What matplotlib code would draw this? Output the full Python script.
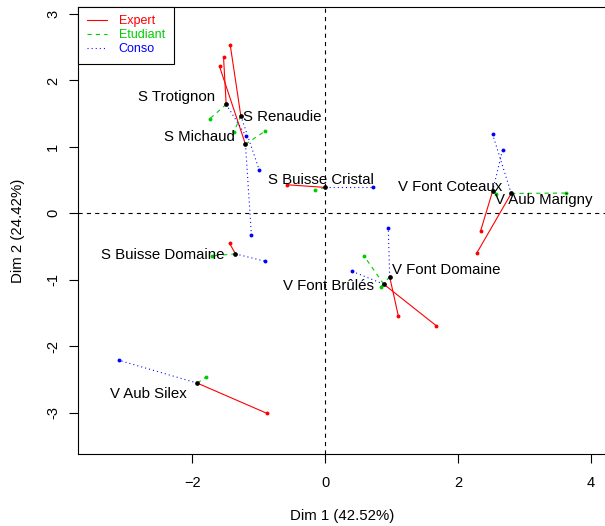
import numpy as np
import matplotlib
matplotlib.use("Agg")
import matplotlib.pyplot as plt
from matplotlib.lines import Line2D

plt.rcParams["font.family"] = ["Liberation Sans", "DejaVu Sans"]
plt.rcParams["lines.scale_dashes"] = False

# individus (coordonnees)
products = ["S Michaud", "S Renaudie", "S Trotignon", "S Buisse Domaine",
            "S Buisse Cristal", "V Aub Silex", "V Aub Marigny",
            "V Font Domaine", "V Font Brûlés", "V Font Coteaux"]

center_x = [-1.20, -1.27, -1.49, -1.35, 0.00, -1.925, 2.80, 0.97, 0.88, 2.52]
center_y = [1.04, 1.47, 1.64, -0.61, 0.39, -2.555, 0.30, -0.955, -1.065, 0.335]

expert_x = [-1.59, -1.43, -1.53, -1.44, -0.57, -0.877, 2.28, 1.10, 1.67, 2.34]
expert_y = [2.21, 2.54, 2.35, -0.45, 0.43, -3.01, -0.60, -1.54, -1.69, -0.26]

etudiant_x = [-0.90, -1.37, -1.74, -1.70, -0.15, -1.79, 3.62, 0.84, 0.58, 2.57]
etudiant_y = [1.24, 1.23, 1.42, -0.64, 0.35, -2.46, 0.305, -1.105, -0.635, 0.295]

conso_x = [-1.11, -0.99, -1.19, -0.91, 0.72, -3.11, 2.52, 0.95, 0.41, 2.67]
conso_y = [-0.33, 0.645, 1.16, -0.72, 0.39, -2.21, 1.19, -0.225, -0.875, 0.96]

groups = ["Expert", "Etudiant", "Conso"]
xticks = [-2, 0, 2, 4]
yticks = [-3, -2, -1, 0, 1, 2, 3]

# position des etiquettes (decalage en pixels, vers le bas positif)
label_pos = {
    "S Michaud": (-10.3, -3.0, "right"),
    "S Renaudie": (2.6, 5.7, "left"),
    "S Trotignon": (-10.7, -3.7, "right"),
    "S Buisse Domaine": (-11.3, 5.3, "right"),
    "S Buisse Cristal": (-4.2, -3.3, "center"),
    "V Aub Silex": (-11.0, 14.6, "right"),
    "V Aub Marigny": (-16.7, 11.0, "left"),
    "V Font Domaine": (2.4, -3.0, "left"),
    "V Font Brûlés": (-9.7, 5.7, "right"),
    "V Font Coteaux": (9.4, 0.0, "right"),
}

colors = ["#FF0000", "#00CD00", "#0000FF"]
styles = ["-", (0, (3, 3)), (0, (0.75, 2.2))]
lw = 0.8
px = 0.72  # pixel -> point

fig = plt.figure(figsize=(6.05, 5.26), dpi=100)
ax = fig.add_axes([78 / 605, (526 - 454) / 526, (606 - 78) / 605, (454 - 6.7) / 526])

ax.axhline(0, color="black", lw=lw, ls=(0, (3, 3)), zorder=1)
ax.axvline(0, color="black", lw=lw, ls=(0, (3, 3)), zorder=1)

partials = [(expert_x, expert_y), (etudiant_x, etudiant_y), (conso_x, conso_y)]
for (gx, gy), col, ls in zip(partials, colors, styles):
    for i in range(len(products)):
        ax.plot([center_x[i], gx[i]], [center_y[i], gy[i]], color=col, lw=lw, ls=ls, zorder=2)
    ax.plot(gx, gy, "o", color=col, ms=2.8, mew=0, zorder=3)

ax.plot(center_x, center_y, "o", color="black", ms=3.4, mew=0, zorder=4)

for i, name in enumerate(products):
    dx, dy, ha = label_pos[name]
    ax.annotate(name, (center_x[i], center_y[i]), xytext=(dx * px, -dy * px),
                textcoords="offset points", ha=ha, va="baseline",
                fontsize=10.8, color="black", zorder=5)

ax.set_xlim(-3.720, 4.226)
ax.set_ylim(-3.622, 3.110)
ax.set_xticks(xticks)
ax.set_yticks(yticks)
ax.set_yticklabels([str(v) for v in yticks], rotation=90, va="center")
ax.tick_params(direction="out", length=6.8, width=lw, labelsize=10.5, pad=6)
ax.tick_params(axis="x", pad=9)
for s in ax.spines.values():
    s.set_linewidth(lw)

ax.set_xlabel("Dim 1 (42.52%)", fontsize=10.8, labelpad=14)
ax.set_ylabel("Dim 2 (24.42%)", fontsize=10.8, labelpad=15)

handles = [Line2D([0], [0], color=c, lw=lw, ls=s) for c, s in zip(colors, styles)]
leg = ax.legend(handles, groups, loc="upper left", bbox_to_anchor=(0, 1),
                borderaxespad=0, fancybox=False, framealpha=1, edgecolor="black",
                fontsize=9, labelcolor=colors, handlelength=1.6, handletextpad=0.95,
                labelspacing=0.15, borderpad=0.7)
leg.get_frame().set_linewidth(lw)

fig.savefig("out.png", dpi=100)
